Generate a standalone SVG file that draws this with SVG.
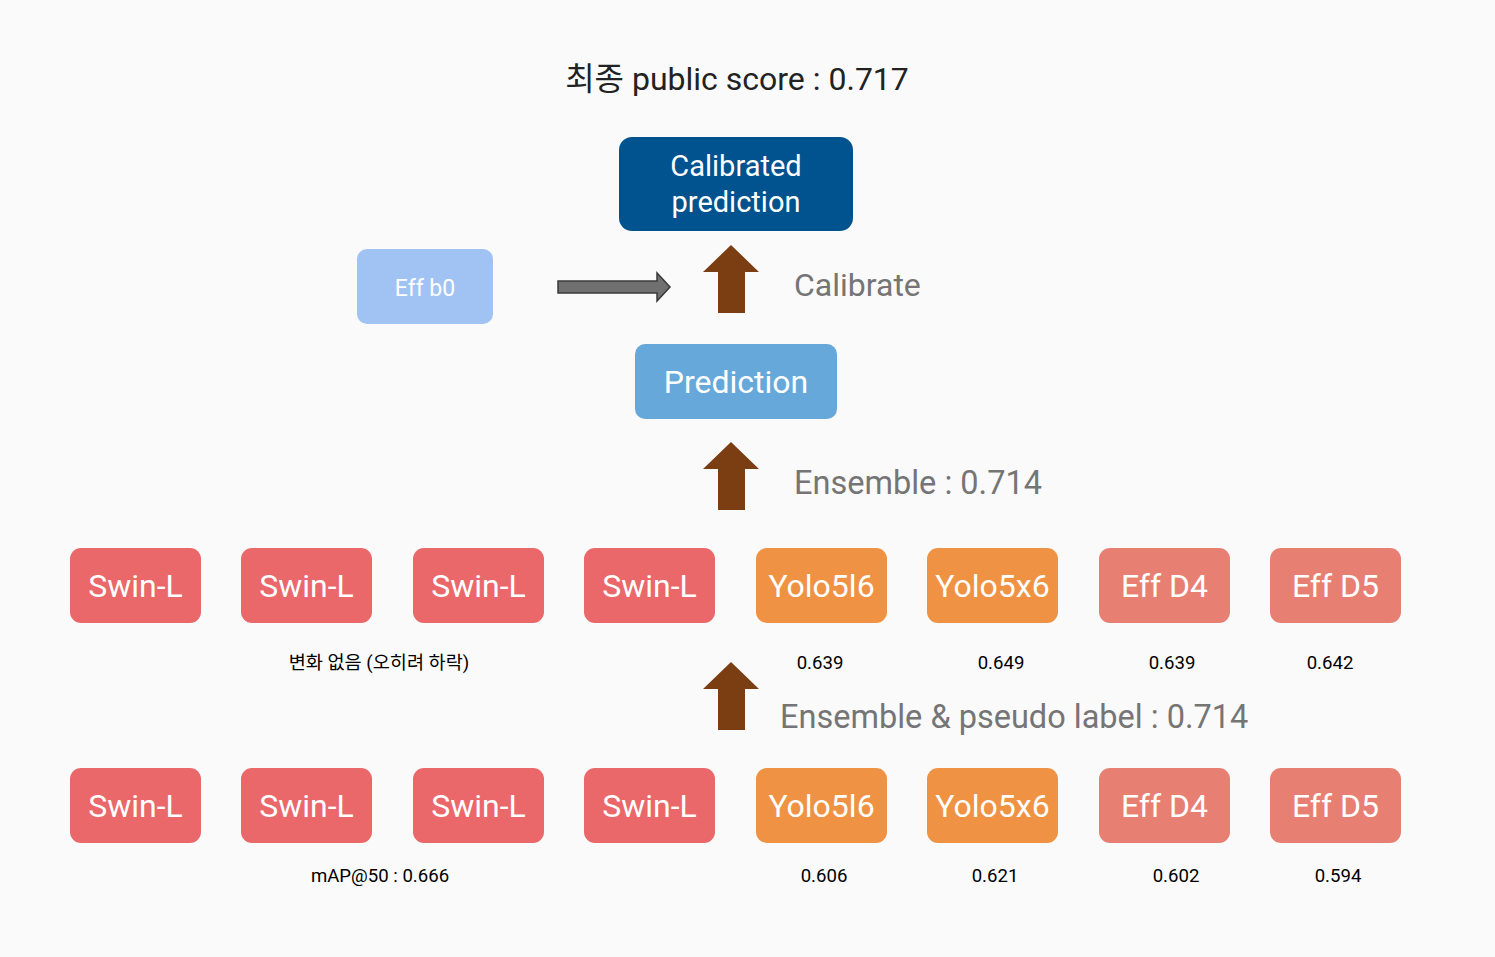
<svg xmlns="http://www.w3.org/2000/svg" width="1495" height="957" viewBox="0 0 1495 957">
<style>
.box{stroke:none}
.bt{font-family:Roboto,"Noto Sans CJK KR",sans-serif;fill:#fff;text-anchor:middle}
.lbl{font-family:Roboto,"Noto Sans CJK KR",sans-serif;fill:#757575}
.sm{font-family:Roboto,"Noto Sans CJK KR",sans-serif;fill:#000;font-size:18.6px;text-anchor:middle}
.swin{fill:#EA676A}
.yolo{fill:#F09243}
.eff{fill:#E77F72}
.up{fill:#7B3E13}
</style>
<defs>
<path id="uparrow" d="M0,0 L28,27 L14,27 L14,68 L-13,68 L-13,27 L-28,27 Z"/>
</defs>
<rect width="1495" height="957" fill="#FAFAFA"/>
<text x="737" y="90" font-family="Roboto,'Noto Sans CJK KR',sans-serif" font-size="32" fill="#222" text-anchor="middle">최종 public score : 0.717</text>

<g id="calibrated">
<rect x="619" y="137" width="234" height="94" rx="13" fill="#01538F"/>
<text class="bt" x="736" y="176" font-size="29">Calibrated</text>
<text class="bt" x="736" y="212" font-size="29">prediction</text>
</g>
<g id="effb0">
<rect x="357" y="249" width="136" height="75" rx="10" fill="#A0C3F3"/>
<text class="bt" x="425" y="296" font-size="23">Eff b0</text>
</g>
<g id="prediction">
<rect x="635" y="344" width="202" height="75" rx="10" fill="#66A8DA"/>
<text class="bt" x="736" y="393" font-size="32">Prediction</text>
</g>

<g id="connectors">
<path d="M558,281 L657,281 L657,273 L670,287 L657,301 L657,293 L558,293 Z" fill="#707070" stroke="#3a3a3a" stroke-width="1.5"/>
<use href="#uparrow" x="731" y="245" class="up"/>
<use href="#uparrow" x="731" y="442" class="up"/>
<use href="#uparrow" x="731" y="662" class="up"/>
</g>

<text class="lbl" x="794" y="296" font-size="32">Calibrate</text>
<text class="lbl" x="794" y="494" font-size="32.5">Ensemble : 0.714</text>
<text class="lbl" x="780" y="728" font-size="32.5">Ensemble &amp; pseudo label : 0.714</text>

<g id="r1n1"><rect class="swin" x="70" y="548" width="131" height="75" rx="11"/><text class="bt" x="135.5" y="597" font-size="32">Swin-L</text></g>
<g id="r1n2"><rect class="swin" x="241" y="548" width="131" height="75" rx="11"/><text class="bt" x="306.5" y="597" font-size="32">Swin-L</text></g>
<g id="r1n3"><rect class="swin" x="413" y="548" width="131" height="75" rx="11"/><text class="bt" x="478.5" y="597" font-size="32">Swin-L</text></g>
<g id="r1n4"><rect class="swin" x="584" y="548" width="131" height="75" rx="11"/><text class="bt" x="649.5" y="597" font-size="32">Swin-L</text></g>
<g id="r1n5"><rect class="yolo" x="756" y="548" width="131" height="75" rx="11"/><text class="bt" x="821.5" y="597" font-size="32">Yolo5l6</text></g>
<g id="r1n6"><rect class="yolo" x="927" y="548" width="131" height="75" rx="11"/><text class="bt" x="992.5" y="597" font-size="32">Yolo5x6</text></g>
<g id="r1n7"><rect class="eff" x="1099" y="548" width="131" height="75" rx="11"/><text class="bt" x="1164.5" y="597" font-size="32">Eff D4</text></g>
<g id="r1n8"><rect class="eff" x="1270" y="548" width="131" height="75" rx="11"/><text class="bt" x="1335.5" y="597" font-size="32">Eff D5</text></g>

<text class="sm" x="379" y="669">변화 없음 (오히려 하락)</text>
<text class="sm" x="820" y="669">0.639</text>
<text class="sm" x="1001" y="669">0.649</text>
<text class="sm" x="1172" y="669">0.639</text>
<text class="sm" x="1330" y="669">0.642</text>

<g id="r2n1"><rect class="swin" x="70" y="768" width="131" height="75" rx="11"/><text class="bt" x="135.5" y="817" font-size="32">Swin-L</text></g>
<g id="r2n2"><rect class="swin" x="241" y="768" width="131" height="75" rx="11"/><text class="bt" x="306.5" y="817" font-size="32">Swin-L</text></g>
<g id="r2n3"><rect class="swin" x="413" y="768" width="131" height="75" rx="11"/><text class="bt" x="478.5" y="817" font-size="32">Swin-L</text></g>
<g id="r2n4"><rect class="swin" x="584" y="768" width="131" height="75" rx="11"/><text class="bt" x="649.5" y="817" font-size="32">Swin-L</text></g>
<g id="r2n5"><rect class="yolo" x="756" y="768" width="131" height="75" rx="11"/><text class="bt" x="821.5" y="817" font-size="32">Yolo5l6</text></g>
<g id="r2n6"><rect class="yolo" x="927" y="768" width="131" height="75" rx="11"/><text class="bt" x="992.5" y="817" font-size="32">Yolo5x6</text></g>
<g id="r2n7"><rect class="eff" x="1099" y="768" width="131" height="75" rx="11"/><text class="bt" x="1164.5" y="817" font-size="32">Eff D4</text></g>
<g id="r2n8"><rect class="eff" x="1270" y="768" width="131" height="75" rx="11"/><text class="bt" x="1335.5" y="817" font-size="32">Eff D5</text></g>

<text class="sm" x="380" y="882">mAP@50 : 0.666</text>
<text class="sm" x="824" y="882">0.606</text>
<text class="sm" x="995" y="882">0.621</text>
<text class="sm" x="1176" y="882">0.602</text>
<text class="sm" x="1338" y="882">0.594</text>
</svg>
